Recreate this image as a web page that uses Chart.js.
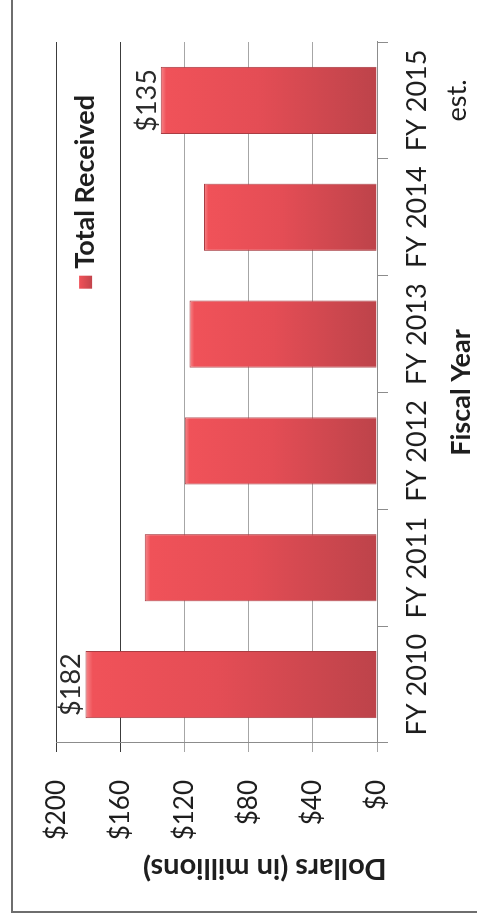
<!DOCTYPE html>
<html>
<head>
<meta charset="utf-8">
<script src="https://cdn.jsdelivr.net/npm/chart.js@4.4.1/dist/chart.umd.min.js"></script>
<style>
  html, body { margin: 0; padding: 0; background: #fff; overflow: hidden; width: 477px; height: 920px; }
  /* the chart is laid out landscape and turned a quarter turn to sit on the portrait page */
  #page { position: absolute; left: 0; top: 0; width: 920px; height: 477px; background: #fff;
          transform-origin: 0 0; transform: translate(0, 920px) rotate(-90deg); }
  #frame { position: absolute; left: 7px; top: 11px; width: 913px; height: 466px;
           border-left: 2px solid #6e6e6e; border-top: 2px solid #6e6e6e; }
  #chart { position: absolute; left: 0; top: 0; }
</style>
</head>
<body>
<div id="page"><div id="frame"><canvas id="chart" width="911" height="464"></canvas></div></div>
<script>
// Fiscal years on the category axis (last one is an estimate)
const fiscalYears = ['FY 2010', 'FY 2011', 'FY 2012', 'FY 2013', 'FY 2014', ['FY 2015', 'est.']];
// Total received, dollars in millions
const totalReceived = [182, 145, 120, 117, 108, 135];
// Bars that carry a value label
const labeledBars = [0, 5];
// Value-axis ticks
const dollarTicks = [0, 40, 80, 120, 160, 200];
const seriesName = 'Total Received';
const valueAxisTitle = 'Dollars (in millions)';
const categoryAxisTitle = 'Fiscal Year';

const FONT = 'Lato, "Open Sans", sans-serif';
const TEXT = '#1e1e1e';

function barFill(ctx) {
  const chart = ctx.chart;
  if (!chart.chartArea || ctx.type !== 'data') return '#e24b53';
  const y = chart.scales.y;
  const top = y.getPixelForValue(ctx.raw);
  const base = y.getPixelForValue(0);
  const g = chart.ctx.createLinearGradient(0, top, 0, base);
  g.addColorStop(0, '#f6898c');
  g.addColorStop(0.025, '#f05259');
  g.addColorStop(0.45, '#e44d55');
  g.addColorStop(1, '#bd434a');
  return g;
}

const annotate = {
  id: 'annotate',
  afterDatasetsDraw(chart) {
    const { ctx } = chart;
    const meta = chart.getDatasetMeta(0);
    ctx.save();
    ctx.font = '27px ' + FONT;
    ctx.fillStyle = '#2a2a2a';
    ctx.textAlign = 'center';
    ctx.textBaseline = 'alphabetic';
    labeledBars.forEach(i => {
      const bar = meta.data[i];
      ctx.fillText('$' + totalReceived[i], bar.x, bar.y - 5);
    });
    ctx.restore();
  },
  afterDraw(chart) {
    const { ctx, chartArea: area } = chart;
    ctx.save();
    // legend, sitting inside the plot near its top edge
    ctx.font = 'bold 27px ' + FONT;
    const w = ctx.measureText(seriesName).width;
    const textRight = area.right - 53;
    const cy = area.top + 29;
    const sw = 13;
    const sx = textRight - w - 7 - sw;
    const lg = ctx.createLinearGradient(0, cy - sw / 2, 0, cy + sw / 2);
    lg.addColorStop(0, '#f05259');
    lg.addColorStop(1, '#c2444b');
    ctx.fillStyle = lg;
    ctx.fillRect(sx, cy - sw / 2, sw, sw);
    ctx.fillStyle = TEXT;
    ctx.textAlign = 'left';
    ctx.textBaseline = 'middle';
    ctx.fillText(seriesName, textRight - w, cy);
    // value-axis title
    ctx.font = 'bold 29px ' + FONT;
    ctx.translate(43, (area.top + area.bottom) / 2 + 48);
    ctx.rotate(-Math.PI / 2);
    ctx.textAlign = 'center';
    ctx.fillText(valueAxisTitle, 0, 0);
    ctx.restore();
  }
};

new Chart(document.getElementById('chart'), {
  type: 'bar',
  data: {
    labels: fiscalYears,
    datasets: [{
      label: seriesName,
      data: totalReceived,
      backgroundColor: barFill,
      borderColor: '#a93d43',
      borderWidth: 1,
      borderSkipped: 'start',
      categoryPercentage: 1,
      barPercentage: 0.575
    }]
  },
  options: {
    responsive: false,
    animation: false,
    devicePixelRatio: 1,
    layout: { padding: { top: 33, right: 42, left: 0, bottom: 0 } },
    plugins: { legend: { display: false }, tooltip: { enabled: false }, title: { display: false } },
    scales: {
      x: {
        grid: { display: true, drawOnChartArea: false, drawTicks: true, tickLength: 11, color: '#8c8c8c', offset: true },
        border: { display: true, color: '#8c8c8c', width: 1 },
        ticks: { font: { family: FONT, size: 27, lineHeight: 1.5 }, color: TEXT, padding: 9, maxRotation: 0, autoSkip: false },
        title: { display: true, text: categoryAxisTitle, font: { family: FONT, size: 27, weight: 'bold' }, color: TEXT, padding: 0 },
        afterFit: s => { s.height = 100; }
      },
      y: {
        min: 0, max: 200,
        afterBuildTicks: s => { s.ticks = dollarTicks.map(v => ({ value: v })); },
        grid: {
          color: c => (c.tick && c.tick.value >= 160) ? '#3c3c3c' : '#a6a6a6',
          tickLength: 9, lineWidth: 1
        },
        border: { display: true, color: '#8c8c8c', width: 1 },
        ticks: { font: { family: FONT, size: 26 }, color: TEXT, padding: 28, callback: v => '$' + v },
        afterFit: s => { s.width = 168; }
      }
    }
  },
  plugins: [annotate]
});
</script>
</body>
</html>
